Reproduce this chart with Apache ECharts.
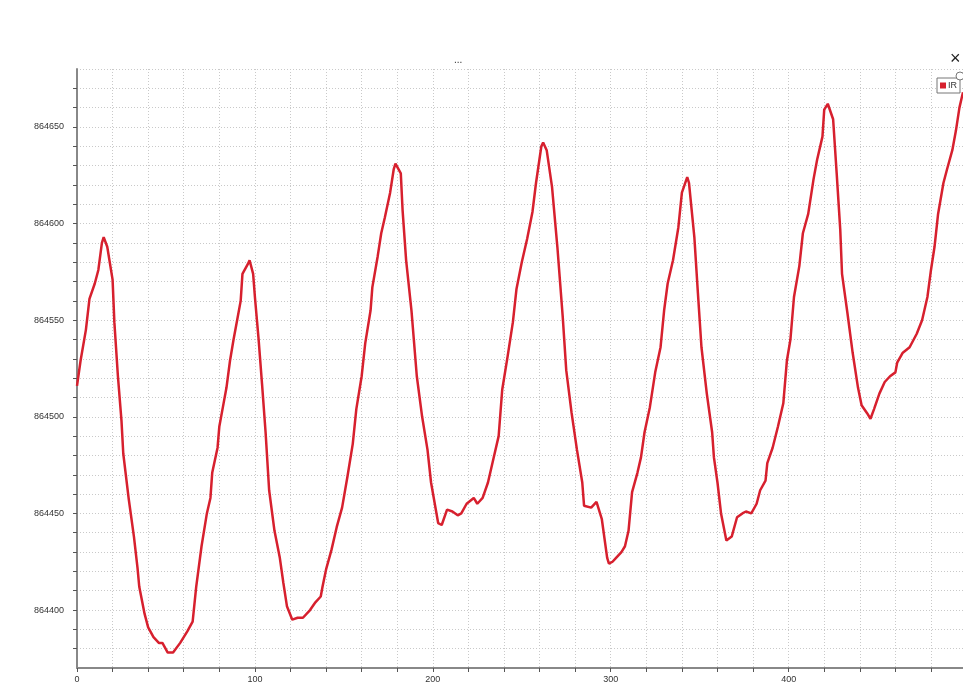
<!DOCTYPE html>
<html>
<head>
<meta charset="utf-8">
<title>IR</title>
<script src="https://cdn.jsdelivr.net/npm/echarts@6/dist/echarts.min.js"></script>
<style>
  html, body { margin: 0; padding: 0; background: #fff; }
  #chart { width: 963px; height: 684px; }
</style>
</head>
<body>
<div id="chart"></div>
<script>
// sample index
var sampleX = [
    0, 2, 5, 7, 10, 12, 14, 15, 17, 20, 21, 23, 25, 26, 29, 32, 34, 35, 38, 40,
    43, 46, 48, 51, 54, 58, 62, 65, 67, 70, 73, 75, 76, 79, 80, 82, 84, 86, 88, 90,
    92, 93, 96, 97, 99, 100, 102, 104, 106, 108, 111, 114, 116, 118, 121, 124, 127, 131, 134, 137,
    138, 140, 143, 146, 149, 152, 155, 157, 160, 162, 165, 166, 169, 171, 173, 176, 178, 179, 182, 183,
    185, 188, 191, 194, 197, 199, 203, 205, 208, 211, 214, 216, 219, 223, 225, 228, 231, 234, 237, 239,
    242, 245, 247, 250, 253, 256, 258, 261, 262, 264, 267, 270, 273, 275, 278, 281, 284, 285, 289, 292,
    295, 298, 299, 301, 303, 306, 308, 310, 312, 315, 317, 319, 322, 325, 328, 330, 332, 335, 338, 340,
    343, 344, 347, 349, 351, 354, 357, 358, 360, 362, 365, 368, 371, 374, 376, 379, 382, 384, 387, 388,
    391, 394, 397, 399, 401, 403, 406, 408, 411, 414, 416, 419, 420, 422, 425, 427, 429, 430, 433, 436,
    439, 441, 444, 446, 448, 451, 454, 457, 460, 461, 464, 468, 472, 475, 478, 480, 482, 484, 487, 489,
    492, 494, 496, 498
];

// IR reading
var irValues = [
    864516, 864529, 864545, 864561, 864569, 864576, 864590, 864593, 864588, 864571, 864549, 864521, 864498, 864481, 864458, 864438, 864422, 864412, 864398, 864391,
    864386, 864383, 864383, 864378, 864378, 864383, 864389, 864394, 864412, 864433, 864450, 864458, 864471, 864484, 864495, 864505, 864515, 864529, 864540, 864550,
    864560, 864574, 864579, 864581, 864574, 864562, 864541, 864517, 864492, 864462, 864441, 864427, 864414, 864402, 864395, 864396, 864396, 864400, 864404, 864407,
    864412, 864421, 864431, 864443, 864453, 864469, 864486, 864504, 864521, 864538, 864555, 864567, 864583, 864595, 864603, 864616, 864628, 864631, 864626, 864607,
    864581, 864555, 864521, 864500, 864483, 864466, 864445, 864444, 864452, 864451, 864449, 864450, 864455, 864458, 864455, 864458, 864466, 864478, 864490, 864514,
    864531, 864549, 864566, 864580, 864592, 864606, 864621, 864640, 864642, 864638, 864619, 864588, 864552, 864524, 864502, 864483, 864466, 864454, 864453, 864456,
    864447, 864427, 864424, 864425, 864427, 864430, 864433, 864441, 864461, 864471, 864479, 864492, 864505, 864523, 864536, 864555, 864569, 864581, 864598, 864616,
    864624, 864621, 864593, 864564, 864536, 864512, 864492, 864479, 864466, 864450, 864436, 864438, 864448, 864450, 864451, 864450, 864455, 864462, 864467, 864476,
    864484, 864495, 864507, 864529, 864540, 864562, 864578, 864595, 864605, 864623, 864633, 864645, 864659, 864662, 864654, 864626, 864597, 864574, 864554, 864533,
    864515, 864506, 864502, 864499, 864504, 864512, 864518, 864521, 864523, 864528, 864533, 864536, 864543, 864550, 864562, 864576, 864588, 864605, 864621, 864628,
    864638, 864648, 864660, 864668
];

var seriesName = 'IR';
var titleText = '...';

var points = sampleX.map(function (x, i) {
    return [x, irValues[i]];
});

var myChart = echarts.init(document.getElementById('chart'));

var gridLine = {
    show: true,
    lineStyle: { color: '#c9c9c9', type: [1, 2], width: 1 }
};

var option = {
    animation: false,
    backgroundColor: '#fff',
    textStyle: { fontFamily: 'Liberation Sans, Arial, sans-serif' },
    title: {
        text: titleText,
        left: 449,
        top: 50,
        textStyle: { fontSize: 10, fontWeight: 'normal', color: '#333' }
    },
    legend: {
        data: [seriesName],
        right: 3,
        top: 78,
        icon: 'rect',
        itemWidth: 6,
        itemHeight: 6,
        itemGap: 2,
        padding: [3, 3, 3, 3],
        borderColor: '#777',
        borderWidth: 1,
        backgroundColor: '#fff',
        textStyle: { fontSize: 9, color: '#333', padding: [0, 0, 0, -3] }
    },
    grid: {
        left: 77,
        right: 0,
        top: 69,
        bottom: 16
    },
    xAxis: {
        type: 'value',
        min: 0,
        max: 498,
        interval: 20,
        axisLine: { lineStyle: { color: '#888', width: 2 } },
        axisTick: { length: 4, lineStyle: { color: '#555' } },
        axisLabel: {
            fontSize: 9,
            color: '#333',
            margin: 7,
            showMaxLabel: false,
            formatter: function (v) { return v % 100 === 0 ? String(v) : ''; }
        },
        splitLine: gridLine
    },
    yAxis: {
        type: 'value',
        min: 864370,
        max: 864680,
        interval: 10,
        offset: 3,
        axisLine: { show: true, lineStyle: { color: '#888', width: 2 } },
        axisTick: { show: true, length: 4, lineStyle: { color: '#555' } },
        axisLabel: {
            fontSize: 9,
            color: '#333',
            margin: 10,
            showMinLabel: false,
            showMaxLabel: false,
            formatter: function (v) { return v % 50 === 0 ? String(v) : ''; }
        },
        splitLine: gridLine
    },
    graphic: [
        {
            type: 'text',
            left: 950,
            top: 50,
            style: { text: '×', fontSize: 18, fill: '#222' }
        },
        {
            type: 'circle',
            shape: { cx: 960, cy: 76, r: 4 },
            style: { fill: '#fff', stroke: '#777', lineWidth: 1 },
            z: 100
        }
    ],
    series: [{
        name: seriesName,
        type: 'line',
        data: points,
        showSymbol: false,
        symbol: 'none',
        lineStyle: { color: '#d7202e', width: 2.5 },
        itemStyle: { color: '#d7202e' }
    }]
};

myChart.setOption(option);
</script>
</body>
</html>
